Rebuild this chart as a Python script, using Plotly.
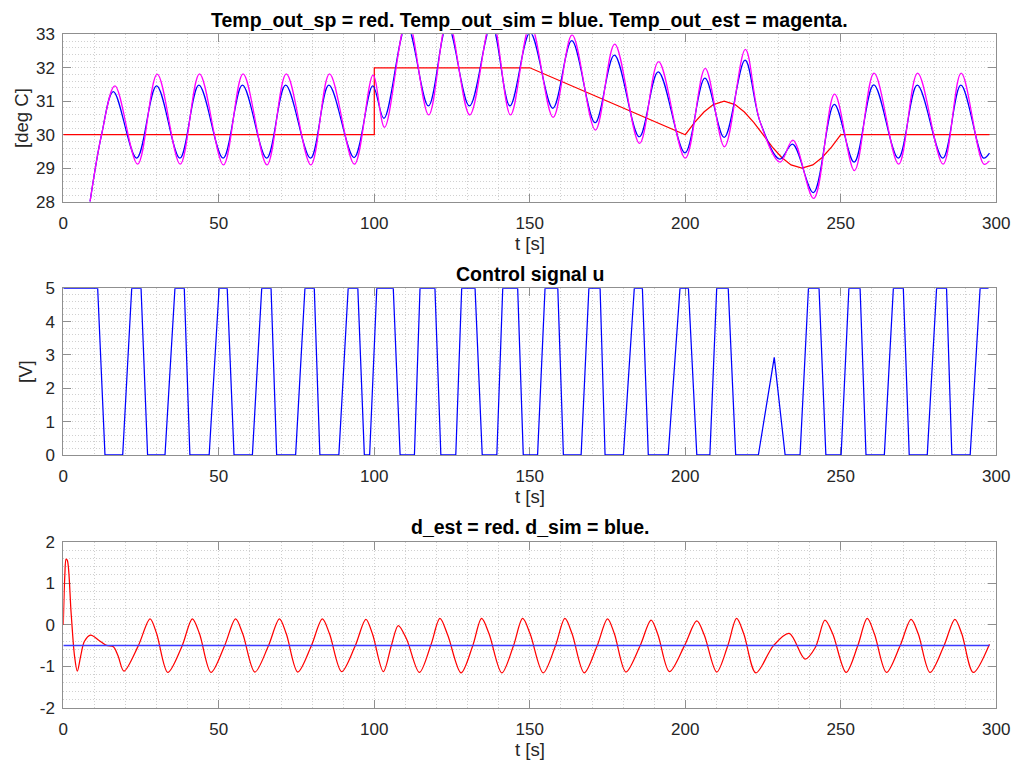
import plotly.graph_objects as go

# ---------------- data ----------------
# Top: set-point (red)
sp_t = [0, 100, 100, 150, 200, 203, 206, 209, 212.5, 216, 219, 222, 225,
        228, 231, 234, 237.5, 241, 244, 247, 250, 297.8]
sp_v = [30, 30, 32, 32, 30, 30.37, 30.68, 30.9, 31.0, 30.9, 30.68, 30.37, 30.0,
        29.63, 29.32, 29.1, 29.0, 29.1, 29.32, 29.63, 30.0, 30.0]

# Top: simulated output temperature (blue) – peaks / troughs
sim_t = [8.6, 12.3, 16.1, 23.6, 30.0, 37.5, 43.6, 51.4, 57.6, 65.4, 71.5, 79.5,
         85.4, 93.5, 99.5, 103.1, 110.4, 117.4, 123.5, 130.6, 137.7, 143.6,
         150.1, 157.4, 163.5, 171.0, 177.2, 185.2, 191.3, 199.9, 206.3, 212.5,
         219.2, 224.0, 230.4, 234.5, 241.2, 247.9, 254.3, 260.6, 268.5, 274.6,
         282.8, 288.6, 295.9, 297.8]
sim_v = [28.0, 30.0, 31.29, 29.30, 31.46, 29.30, 31.48, 29.30, 31.48, 29.30, 31.48, 29.30,
         31.48, 29.32, 31.46, 30.49, 33.3, 30.86, 33.3, 30.86, 33.3, 30.86,
         33.05, 30.79, 32.81, 30.36, 32.38, 29.94, 31.88, 29.46, 31.69, 29.92,
         32.23, 30.4, 29.27, 29.72, 28.27, 30.91, 29.18, 31.49, 29.30, 31.48,
         29.30, 31.48, 29.30, 29.45]

# Top: estimated output temperature (magenta)
est_t = [8.6, 12.3, 16.6, 23.9, 30.2, 37.6, 43.8, 51.5, 57.8, 65.5, 71.7, 79.6,
         85.6, 93.6, 99.6, 103.3, 110.6, 117.5, 123.6, 130.7, 137.8, 143.8,
         150.2, 157.5, 163.6, 171.1, 177.3, 185.3, 191.4, 200.0, 206.4, 212.6,
         219.3, 224.0, 230.5, 234.6, 241.3, 248.0, 254.4, 260.7, 268.6, 274.7,
         282.9, 288.7, 296.0, 297.8]
est_v = [28.0, 30.0, 31.46, 29.12, 31.81, 29.12, 31.82, 29.10, 31.82, 29.10, 31.82, 29.10,
         31.82, 29.12, 31.78, 30.22, 33.5, 30.59, 33.5, 30.59, 33.5, 30.59,
         33.3, 30.52, 32.98, 30.14, 32.71, 29.74, 32.18, 29.30, 31.98, 29.64,
         32.55, 30.4, 29.18, 29.84, 28.10, 31.21, 28.93, 31.84, 29.12, 31.84,
         29.12, 31.84, 29.12, 29.22]

# Middle: control signal u
u_t = [0, 11.05, 13.4, 19.1, 22.0, 25.0, 27.1, 32.7, 35.9, 38.9, 40.7, 46.9, 50.1,
       52.7, 54.9, 60.8, 63.8, 66.8, 68.6, 74.7, 77.7, 80.7, 82.5, 88.6, 91.6,
       94.7, 96.8, 98.5, 100.8, 106.1, 108.3, 112.9, 114.7, 119.5, 121.4, 126.2,
       128.1, 132.4, 134.7, 139.4, 141.3, 146.1, 147.9, 152.5, 154.9, 159.0,
       160.8, 166.5, 169.0, 172.6, 174.2, 180.1, 183.6, 186.2, 188.1, 194.5,
       198.3, 201.0, 203.7, 207.9, 210.1, 213.8, 216.2, 223.5, 228.6, 232.1,
       236.9, 239.6, 243.0, 245.2, 250.1, 252.6, 256.2, 258.1, 264.0, 266.9,
       270.1, 272.0, 277.8, 280.8, 284.0, 285.7, 291.6, 294.8, 297.5]
u_v = [5, 5, 0, 0, 5, 5, 0, 0, 5, 5, 0, 0, 5,
       5, 0, 0, 5, 5, 0, 0, 5, 5, 0, 0, 5,
       5, 0, 0, 5, 5, 0, 0, 5, 5, 0, 0,
       5, 5, 0, 0, 5, 5, 0, 0, 5, 5,
       0, 0, 5, 5, 0, 0, 5, 5, 0, 0,
       5, 5, 0, 0, 5, 5, 0, 0, 2.93, 0,
       0, 5, 5, 0, 0, 5, 5, 0, 0, 5,
       5, 0, 0, 5, 5, 0, 0, 5, 5]

# Bottom: estimated disturbance (red)
dest_t = [0, 0.5, 0.9, 1.3, 2.5, 3.6, 4.5, 5.6, 6.8, 8.8, 11.5, 13.9, 16.1, 17.6,
          19.5, 24.1, 27.9, 30.0,
          33.6, 38.1, 41.5, 43.8,
          47.5, 51.8, 55.4, 57.7,
          61.6, 65.9, 69.5, 71.7,
          75.4, 79.7, 83.3, 85.6,
          89.5, 93.8, 97.3, 99.4,
          102.9, 105.5, 107.7, 110.4,
          114.5, 118.2, 121.1, 123.6,
          127.9, 131.6, 134.5, 136.9,
          141.0, 144.7, 147.7, 150.1,
          154.3, 158.2, 161.3, 163.6,
          167.5, 171.6, 175.0, 177.2,
          180.9, 185.4, 189.0, 191.2,
          194.9, 199.7, 203.7, 206.1,
          210.1, 213.6, 216.5, 218.8,
          222.7, 228.3, 233.4,
          238.5, 241.8, 244.9, 247.4,
          251.7, 255.4, 258.5, 260.8,
          264.7, 269.0, 272.6, 274.9,
          278.7, 283.1, 286.7, 288.9,
          292.6, 297.8]
dest_v = [0.0, 1.2, 1.58, 1.55, 0.3, -0.75, -1.12, -0.75, -0.4, -0.25, -0.38, -0.5, -0.53, -0.75,
          -1.12, -0.51, 0.14, -0.21,
          -1.15, -0.53, 0.14, -0.22,
          -1.15, -0.52, 0.14, -0.22,
          -1.14, -0.52, 0.14, -0.22,
          -1.14, -0.52, 0.14, -0.22,
          -1.13, -0.52, 0.13, -0.22,
          -1.13, -0.5, -0.02, -0.35,
          -1.15, -0.49, 0.15, -0.25,
          -1.16, -0.52, 0.15, -0.22,
          -1.16, -0.52, 0.15, -0.22,
          -1.16, -0.52, 0.15, -0.22,
          -1.16, -0.52, 0.14, -0.22,
          -1.14, -0.52, 0.11, -0.24,
          -1.13, -0.51, 0.09, -0.25,
          -1.14, -0.52, 0.15, -0.22,
          -1.16, -0.51, -0.21,
          -0.83, -0.55, 0.11, -0.22,
          -1.15, -0.52, 0.15, -0.22,
          -1.15, -0.52, 0.13, -0.22,
          -1.15, -0.52, 0.13, -0.22,
          -1.15, -0.47]

# Bottom: simulated disturbance (blue)
dsim_t = [0, 297.8]
dsim_v = [-0.5, -0.5]

# Axis texts
titles = ["Temp_out_sp = red. Temp_out_sim = blue. Temp_out_est = magenta.",
          "Control signal u",
          "d_est = red. d_sim = blue."]
xlabel = "t [s]"
ylabels = ["[deg C]", "[V]"]
x_ticks = [0, 50, 100, 150, 200, 250, 300]
y1_ticks = [28, 29, 30, 31, 32, 33]
y2_ticks = [0, 1, 2, 3, 4, 5]
y3_ticks = [-2, -1, 0, 1, 2]

# ---------------- layout geometry ----------------
W, H = 1014, 764
def fx(px):
    return px / W
def fy(py):
    return 1 - py / H

xdom = [fx(63.3), fx(996.3)]
FONT = "Liberation Sans"
AX = "#8f8f8f"
GRID = "#d0d0d0"
DASH = "1px,2px"
TICKFONT = dict(family=FONT, size=17, color="#262626")

def xaxis_cfg(anchor):
    return dict(domain=xdom, anchor=anchor, range=[0, 300],
                tickmode="array", tickvals=x_ticks, ticktext=[str(v) for v in x_ticks],
                showline=True, linecolor=AX, linewidth=1, mirror="ticks",
                ticks="inside", ticklen=8, tickcolor=AX, tickwidth=1,
                tickfont=TICKFONT, automargin=False,
                showgrid=True, gridcolor=GRID, griddash=DASH, gridwidth=1,
                zeroline=False, ticklabelstandoff=6, layer="below traces",
                minor=dict(dtick=10, tick0=0, showgrid=True, gridcolor=GRID,
                           griddash=DASH, gridwidth=1))

def yaxis_cfg(anchor, dom, rng, ticks):
    return dict(domain=dom, anchor=anchor, range=rng,
                tickmode="array", tickvals=ticks, ticktext=[str(v) for v in ticks],
                showline=True, linecolor=AX, linewidth=1, mirror="ticks",
                ticks="inside", ticklen=8, tickcolor=AX, tickwidth=1,
                tickfont=TICKFONT, automargin=False,
                showgrid=True, gridcolor=GRID, griddash=DASH, gridwidth=1,
                zeroline=False, ticklabelstandoff=4, layer="below traces",
                minor=dict(dtick=0.2, tick0=0, showgrid=True, gridcolor=GRID,
                           griddash=DASH, gridwidth=1))

fig = go.Figure()
LW = 1.25
# top
fig.add_trace(go.Scatter(x=sp_t, y=sp_v, mode="lines", xaxis="x", yaxis="y",
                         line=dict(color="#ff0000", width=LW)))
fig.add_trace(go.Scatter(x=sim_t, y=sim_v, mode="lines", xaxis="x", yaxis="y",
                         line=dict(color="#0000ff", width=LW, shape="spline", smoothing=1.0)))
fig.add_trace(go.Scatter(x=est_t, y=est_v, mode="lines", xaxis="x", yaxis="y",
                         line=dict(color="#ff00ff", width=LW, shape="spline", smoothing=1.0)))
# middle
fig.add_trace(go.Scatter(x=u_t, y=u_v, mode="lines", xaxis="x2", yaxis="y2",
                         line=dict(color="#0000ff", width=LW)))
# bottom
fig.add_trace(go.Scatter(x=dest_t, y=dest_v, mode="lines", xaxis="x3", yaxis="y3",
                         line=dict(color="#ff0000", width=LW, shape="spline", smoothing=0.9)))
fig.add_trace(go.Scatter(x=dsim_t, y=dsim_v, mode="lines", xaxis="x3", yaxis="y3",
                         line=dict(color="#3c3cff", width=1.6)))

ann = []
def text(x, y, s, size, bold=False, angle=0, color="#262626"):
    ann.append(dict(x=fx(x), y=fy(y), xref="paper", yref="paper", text=("<b>%s</b>" % s) if bold else s,
                    showarrow=False, xanchor="center", yanchor="middle", textangle=angle,
                    font=dict(family=FONT, size=size, color=color)))

cx = (63.3 + 996.3) / 2
TS = 19.5
LS = 18.6
text(cx, 20.5, titles[0], TS, bold=True, color="#000000")
text(cx, 273.5, titles[1], TS, bold=True, color="#000000")
text(cx, 526.5, titles[2], TS, bold=True, color="#000000")
text(cx, 243, xlabel, LS)
text(cx, 496, xlabel, LS)
text(cx, 749, xlabel, LS)
text(22, 118, ylabels[0], LS, angle=-90)
text(25, 372, ylabels[1], LS, angle=-90)

fig.update_layout(
    width=W, height=H, margin=dict(l=0, r=0, t=0, b=0, pad=0), autosize=False,
    paper_bgcolor="white", plot_bgcolor="white", showlegend=False,
    xaxis=xaxis_cfg("y"),
    xaxis2=xaxis_cfg("y2"),
    xaxis3=xaxis_cfg("y3"),
    yaxis=yaxis_cfg("x", [fy(201.7), fy(34.3)], [28, 33], y1_ticks),
    yaxis2=yaxis_cfg("x2", [fy(455), fy(288.3)], [0, 5], y2_ticks),
    yaxis3=yaxis_cfg("x3", [fy(707.7), fy(541.7)], [-2, 2], y3_ticks),
    annotations=ann,
)

fig.write_html("out.html", config={"displayModeBar": False},
               post_script="document.body.style.margin='0';document.body.style.overflow='hidden';")
